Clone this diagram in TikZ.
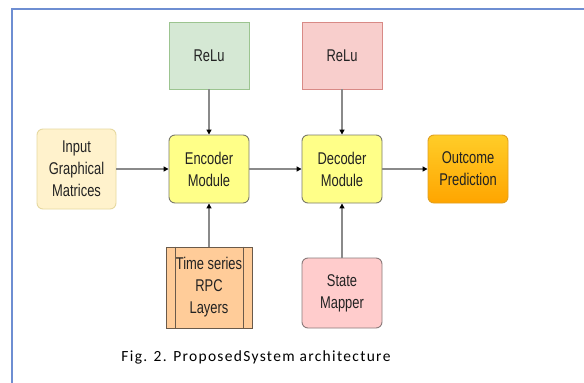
\documentclass[tikz,border=0pt]{standalone}
\usepackage{fontspec}
\setmainfont{Liberation Sans}[FakeStretch=0.76]
\newfontfamily\capfont{Carlito}[LetterSpace=8.5]
\usetikzlibrary{arrows.meta,calc}
\definecolor{frameblue}{HTML}{6E8ED2}
\definecolor{grfill}{HTML}{D5E8D4}\definecolor{grline}{HTML}{9CC490}
\definecolor{rdfill}{HTML}{F8CECC}\definecolor{rdline}{HTML}{D88A86}
\definecolor{infill}{HTML}{FFF2CC}\definecolor{inline}{HTML}{E6D9A0}
\definecolor{yfill}{HTML}{FFFF88}\definecolor{yline}{HTML}{7A7A6A}
\definecolor{orT}{HTML}{FFCD28}\definecolor{orB}{HTML}{FFA500}\definecolor{orline}{HTML}{E0A020}
\definecolor{tsfill}{HTML}{FFCC99}\definecolor{tsline}{HTML}{6A5A4A}
\definecolor{smfill}{HTML}{FFCCCC}\definecolor{smline}{HTML}{8A7A7A}
\definecolor{arr}{HTML}{8A8A8A}
\definecolor{txt}{HTML}{222222}
\begin{document}
\begin{tikzpicture}[x=1pt,y=-1pt,
  box/.style={draw, line width=0.9pt, minimum width=80pt, inner sep=0pt, align=center,
    font=\fontsize{17}{22}\selectfont, text=txt},
  rbox/.style={box, rounded corners=6pt},
  conn/.style={draw=arr, line width=1.3pt, -{Triangle[length=5pt,width=5pt,black]}}]
\useasboundingbox (0,0) rectangle (584,383);
\fill[white] (0,0) rectangle (584,383);
\draw[frameblue, line width=2pt] (12,383) -- (12,9) -- (584,9);

\node[box, draw=grline, fill=grfill, minimum height=67pt] (relu1) at (209,55.5) {ReLu};
\node[box, draw=rdline, fill=rdfill, minimum height=67pt] (relu2) at (342,55.5) {ReLu};
\node[rbox, draw=inline, fill=infill, minimum width=79pt, minimum height=80pt] (inp) at (76.5,169) {Input\\Graphical\\Matrices};
\node[rbox, draw=yline, fill=yfill, minimum height=68pt] (enc) at (209,169) {Encoder\\Module};
\node[rbox, draw=yline, fill=yfill, minimum height=68pt] (dec) at (342,169) {Decoder\\Module};
\node[rbox, draw=orline, top color=orT, bottom color=orB, minimum height=68pt] (out) at (468,169) {Outcome\\Prediction};
\node[box, draw=tsline, fill=tsfill, minimum width=86pt, minimum height=81pt] (ts) at (209,287.5) {Time series\\RPC\\Layers};
\draw[tsline, line width=0.9pt] ($(ts.north west)+(10,0)$) -- ($(ts.south west)+(10,0)$)
  ($(ts.north east)+(-9,0)$) -- ($(ts.south east)+(-9,0)$);
\node[rbox, draw=smline, fill=smfill, minimum height=70pt] (sm) at (342,293) {State\\Mapper};

\draw[conn] (relu1) -- (enc);
\draw[conn] (relu2) -- (dec);
\draw[conn] (inp) -- (enc);
\draw[conn] (enc) -- (dec);
\draw[conn] (dec) -- (out);
\draw[conn] (ts) -- (enc);
\draw[conn] (sm) -- (dec);

\node[font=\capfont\fontsize{15.5}{17}\selectfont, inner sep=0pt] (cap) at (256,357) {Fig. 2. ProposedSystem architecture};
\end{tikzpicture}
\end{document}
